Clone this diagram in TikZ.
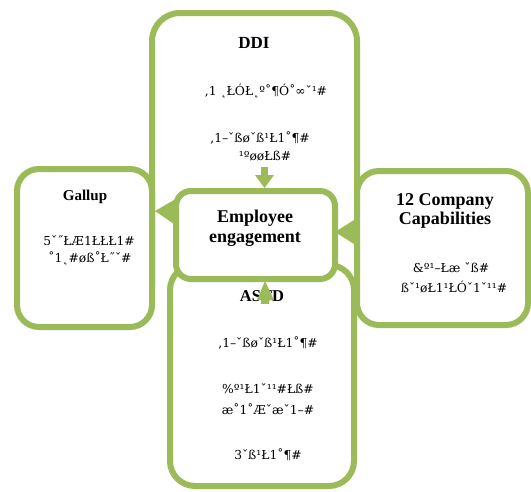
\documentclass[tikz,border=0pt]{standalone}
\usepackage{fontspec}
\setmainfont{Liberation Serif}
\newfontfamily\garb{DejaVu Serif}
\definecolor{grn}{HTML}{9BBB59}
\begin{document}
\begin{tikzpicture}[x=1pt,y=-1pt,
  box/.style={draw=grn,line width=6pt,fill=white},
  ttl/.style={font=\bfseries\fontsize{#1}{#1}\selectfont,inner sep=0pt,align=center},
  gbl/.style={font=\garb\fontsize{12.3}{12.3}\selectfont,inner sep=0pt},
  arr/.style={fill=grn,draw=none}]
\useasboundingbox (0,0) rectangle (531,491);
% DDI box (open at bottom, hidden)
\draw[draw=grn,line width=6pt,rounded corners=28pt] (152,285) -- (152,13) -- (357,13) -- (357,285);
% Gallup
\draw[box,rounded corners=22pt] (17,169) rectangle (152,327);
% 12 Company
\draw[box,rounded corners=22pt] (357,171) rectangle (528,325);
% ASTD
\draw[box,rounded corners=25pt] (170,265) rectangle (354,486);
% centre
\draw[box,rounded corners=15pt] (176,191) rectangle (335,279);
% arrows
\fill[arr] (261,167) rectangle (268,176);
\fill[arr] (255,175) -- (274,175) -- (264.5,188) -- cycle;
\fill[arr] (155,211) -- (174,200) -- (174,224) -- cycle;
\fill[arr] (335,232) -- (354,220) -- (354,244) -- cycle;
% texts
\node[ttl=17] (tddi) at (254,43) {DDI};
\node[gbl] (d1) at (266,91) {,1 ˛ŁÓŁ˛º˚¶Ó˚∞ˇ¹\#};
\node[gbl] (d2) at (260,138) {,1–ˇßøˇß¹Ł1˚¶\#};
\node[gbl] (d3) at (265,156) {¹ºøøŁß\#};
\node[ttl=15] (tgal) at (85,197) {Gallup};
\node[gbl] (g1) at (89,241) {5ˇ˝ŁÆ1ŁŁŁ1\#};
\node[gbl] (g2) at (90,258) {˚1˛\#øß˚Ł˝ˇ\#};
\node[ttl=18,text height=12pt] (tco) at (445,201) {12 Company};
\node[ttl=18,text height=12pt] (tco2) at (445,220) {Capabilities};
\node[gbl] (c1) at (451,268) {\&º¹–Łæ ˇß\#};
\node[gbl] (c2) at (454,287) {ßˇ¹øŁ1¹ŁÓˇ1ˇ¹¹\#};
\node[ttl=18] (emp) at (255,228) {Employee\\[2pt]engagement};
\node[ttl=16.5] (tastd) at (262,296) {ASTD};
\fill[arr] (265,281) -- (274,300) -- (257,300) -- cycle;
\fill[arr] (261,299) rectangle (269,304);
\node[gbl] (a1) at (268,343) {,1–ˇßøˇß¹Ł1˚¶\#};
\node[gbl] (a2) at (268,389) {\%º¹Ł1ˇ¹¹\#Łß\#};
\node[gbl] (a3) at (268,409) {æ˚1˚Æˇæˇ1–\#};
\node[gbl] (a4) at (268,455) {3ˇß¹Ł1˚¶\#};
\end{tikzpicture}
\end{document}
